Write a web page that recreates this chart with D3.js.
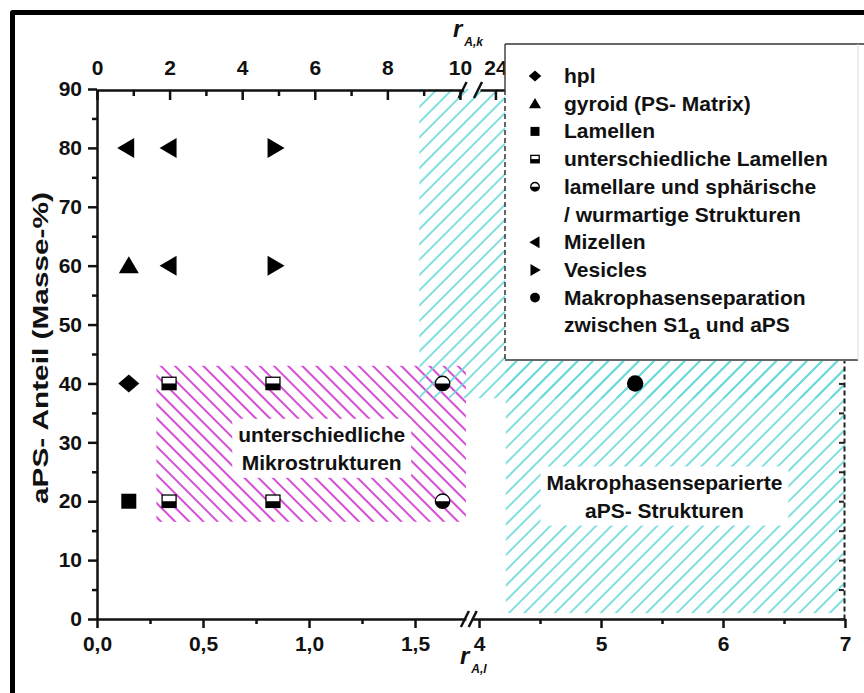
<!DOCTYPE html>
<html lang="de">
<head>
<meta charset="UTF-8">
<title>aPS Phasendiagramm</title>
<style>
  body { margin: 0; background: #fff; }
  svg text { font-family: "Liberation Sans", Arial, sans-serif; font-weight: bold; fill: #111; }
</style>
</head>
<body>
<div id="chart"></div>
<script src="https://d3js.org/d3.v7.min.js"></script>
<script>
// ---- data ----
// bottom axis r_A,l (broken: 0..1.74 | 3.94..7)
const xTicksLow = [0, 0.5, 1.0, 1.5];
const xMinorLow = [0.25, 0.75, 1.25];
const xTicksHigh = [4, 5, 6, 7];
const xMinorHigh = [4.5, 5.5, 6.5];
// top axis r_A,k (broken: 0..10 | 24)
const topTicksLow = [0, 2, 4, 6, 8, 10];
const topMinorLow = [1, 3, 5, 7, 9];
const topTicksHigh = [24];
// y axis
const yTicks = [0, 10, 20, 30, 40, 50, 60, 70, 80, 90];
const yMinor = [5, 15, 25, 35, 45, 55, 65, 75, 85];
const yRightTicks = [0, 5, 10, 15, 20, 25, 30, 35, 40, 45];

// series (x = r_A,l, y = aPS-Anteil)
const hplX = [0.15], hplY = [40];
const gyroidX = [0.15], gyroidY = [60];
const lamellenX = [0.15], lamellenY = [20];
const diffLamX = [0.34, 0.83, 0.34, 0.83], diffLamY = [40, 40, 20, 20];
const lamSphX = [1.63, 1.63], lamSphY = [40, 20];
const mizellenX = [0.14, 0.34, 0.34], mizellenY = [80, 80, 60];
const vesiclesX = [0.84, 0.84], vesiclesY = [80, 60];
const makroX = [5.28], makroY = [40];

// shaded regions [x0, x1], [y0, y1]
const microX = [0.28, 1.74], microY = [16.5, 43];
const macroTopX = [1.52, 7], macroTopY = [37.5, 90];
const macroBotX = [4.22, 7], macroBotY = [1, 45];

const microLabel = ["unterschiedliche", "Mikrostrukturen"];
const microLabelAt = [1.06, 28.9];
const macroLabel = ["Makrophasenseparierte", "aPS- Strukturen"];
const macroLabelAt = [5.52, 20.8];

const legendLabels = ["hpl", "gyroid (PS- Matrix)", "Lamellen", "unterschiedliche Lamellen",
  "lamellare und sphärische", "/ wurmartige Strukturen", "Mizellen", "Vesicles",
  "Makrophasenseparation", "zwischen S1"];
const legendSymbols = ["diamond", "triUp", "square", "halfSquare", "halfCircle", null,
  "triLeft", "triRight", "circle", null];

// ---- setup ----
const width = 864, height = 693;
const svg = d3.select("#chart").append("svg")
  .attr("width", width).attr("height", height);

const xL = d3.scaleLinear().domain([0, 1.74]).range([97, 465.9]);
const xR = d3.scaleLinear().domain([3.94, 7]).range([471.7, 845]);
const xPos = v => v <= 2 ? xL(v) : xR(v);
const tL = d3.scaleLinear().domain([0, 10.1]).range([97, 463.6]);
const tR = d3.scaleLinear().domain([23.6, 24.3]).range([480, 507]);
const y = d3.scaleLinear().domain([0, 90]).range([619, 89]);

// hatch patterns
const defs = svg.append("defs");
defs.append("pattern").attr("id", "pinkHatch")
  .attr("patternUnits", "userSpaceOnUse").attr("width", 10).attr("height", 10)
  .attr("patternTransform", "rotate(-45)")
  .append("line").attr("x1", 5).attr("x2", 5).attr("y1", 0).attr("y2", 10)
  .attr("stroke", "#d444d4").attr("stroke-width", 1.9);
defs.append("pattern").attr("id", "cyanHatch")
  .attr("patternUnits", "userSpaceOnUse").attr("width", 10.8).attr("height", 10.8)
  .attr("patternTransform", "rotate(45)")
  .append("line").attr("x1", 5).attr("x2", 5).attr("y1", 0).attr("y2", 10.8)
  .attr("stroke", "#62d8d8").attr("stroke-width", 1.6);

// outer frame
svg.append("path")
  .attr("d", "M12.5,693V12.5H864")
  .attr("fill", "none").attr("stroke", "#000").attr("stroke-width", 5)
  .attr("stroke-linejoin", "round");

// regions
function region(xs, ys, fill) {
  svg.append("rect")
    .attr("x", xPos(xs[0])).attr("y", y(ys[1]))
    .attr("width", xPos(xs[1]) - xPos(xs[0]))
    .attr("height", y(ys[0]) - y(ys[1]))
    .attr("fill", fill);
}
region(microX, microY, "url(#pinkHatch)");
region(macroTopX, macroTopY, "url(#cyanHatch)");
region(macroBotX, macroBotY, "url(#cyanHatch)");

// region labels with white background
function regionLabel(lines, at) {
  const g = svg.append("g");
  const t = g.append("text").attr("text-anchor", "middle").attr("font-size", 21);
  lines.forEach((s, i) => {
    t.append("tspan").attr("x", xPos(at[0])).attr("y", y(at[1]) - 14 + i * 28 + 7).text(s);
  });
  const bb = t.node().getBBox();
  g.insert("rect", "text")
    .attr("x", bb.x - 6).attr("y", bb.y - 4)
    .attr("width", bb.width + 12).attr("height", bb.height + 8)
    .attr("fill", "#fff");
}
regionLabel(microLabel, microLabelAt);
regionLabel(macroLabel, macroLabelAt);

// ---- axes ----
const fmtComma = d => d3.format(".1f")(d).replace(".", ",");
function styleAxis(g, fs) {
  g.attr("font-family", "Liberation Sans, Arial, sans-serif").attr("font-size", fs || 21)
    .attr("font-weight", "bold");
  g.select(".domain").attr("stroke-width", 2.5).attr("stroke", "#111");
  g.selectAll(".tick line").attr("stroke-width", 2.5).attr("stroke", "#111");
  g.selectAll(".tick text").attr("fill", "#111");
}
function minor(axis, vals, size, tx, ty) {
  svg.append("g").attr("transform", `translate(${tx},${ty})`)
    .call(axis.tickValues(vals).tickSize(size).tickFormat(""))
    .call(g => g.select(".domain").remove())
    .call(g => g.selectAll(".tick line").attr("stroke-width", 2.5).attr("stroke", "#111"));
}

// bottom
svg.append("g").attr("transform", "translate(0,619)")
  .call(d3.axisBottom(xL).tickValues(xTicksLow).tickSize(9).tickSizeOuter(0)
    .tickPadding(8).tickFormat(fmtComma))
  .call(g => styleAxis(g));
svg.append("g").attr("transform", "translate(0,619)")
  .call(d3.axisBottom(xR).tickValues(xTicksHigh).tickSize(9).tickSizeOuter(0)
    .tickPadding(8).tickFormat(d3.format("d")))
  .call(g => styleAxis(g));
minor(d3.axisBottom(xL), xMinorLow, 5, 0, 619);
minor(d3.axisBottom(xR), xMinorHigh, 5, 0, 619);

// left
svg.append("g").attr("transform", "translate(97,0)")
  .call(d3.axisLeft(y).tickValues(yTicks).tickSize(9).tickSizeOuter(0).tickPadding(6))
  .call(g => styleAxis(g));
minor(d3.axisLeft(y), yMinor, 5, 97, 0);

// right (dashed, inward ticks)
svg.append("g").attr("transform", "translate(844,0)")
  .call(d3.axisRight(y).tickValues(yRightTicks).tickSize(-5).tickSizeOuter(0).tickFormat(""))
  .call(g => {
    g.select(".domain").attr("stroke", "#222").attr("stroke-width", 2).attr("stroke-dasharray", "5,3");
    g.selectAll(".tick line").attr("stroke", "#222").attr("stroke-width", 2);
  });

// top (inward ticks)
svg.append("g").attr("transform", "translate(0,90)")
  .call(d3.axisTop(tL).tickValues(topTicksLow).tickSize(-10).tickSizeOuter(0).tickPadding(15))
  .call(g => styleAxis(g));
svg.append("g").attr("transform", "translate(0,90)")
  .call(d3.axisTop(tR).tickValues(topTicksHigh).tickSize(-10).tickSizeOuter(0).tickPadding(15)
    .tickFormat(d3.format("d")))
  .call(g => styleAxis(g));
minor(d3.axisTop(tL), topMinorLow, -6, 0, 90);

// break marks
function breakMarks(xs, yy) {
  svg.append("g").selectAll("line").data(xs).join("line")
    .attr("x1", d => d - 4).attr("x2", d => d + 4)
    .attr("y1", yy + 8).attr("y2", yy - 8)
    .attr("stroke", "#111").attr("stroke-width", 2.5);
}
breakMarks([(xL(1.74) - 1), (xR(3.94) + 1)], 619);
breakMarks([tL(10.1) - 1, tR(23.6) - 2], 90);

// axis titles
svg.append("text").attr("transform", "translate(48,348) rotate(-90)")
  .attr("text-anchor", "middle").attr("font-size", 22)
  .attr("textLength", 312).attr("lengthAdjust", "spacingAndGlyphs")
  .text("aPS- Anteil (Masse-%)");
function rTitle(x0, base, sub) {
  const t = svg.append("text").attr("x", x0).attr("y", base);
  t.append("tspan").attr("font-size", 24).attr("font-style", "italic").text("r");
  t.append("tspan").attr("font-size", 12).attr("font-style", "italic").attr("dy", 9).attr("dx", 2).text(sub);
}
rTitle(453, 37, "A,k");
rTitle(460, 664, "A,l");

// ---- markers ----
function drawSymbol(g, type, s) {
  const k = "#000";
  if (type === "diamond") {
    g.append("path").attr("d", `M0,${-s * 0.9}L${s * 1.05},0L0,${s * 0.9}L${-s * 1.05},0Z`).attr("fill", k);
  } else if (type === "triUp") {
    g.append("path").attr("d", `M0,${-s * 0.95}L${s},${s * 0.75}L${-s},${s * 0.75}Z`).attr("fill", k);
  } else if (type === "triLeft") {
    g.append("path").attr("d", `M${-s * 0.95},0L${s * 0.75},${-s}L${s * 0.75},${s}Z`).attr("fill", k);
  } else if (type === "triRight") {
    g.append("path").attr("d", `M${s * 0.95},0L${-s * 0.75},${-s}L${-s * 0.75},${s}Z`).attr("fill", k);
  } else if (type === "square") {
    g.append("rect").attr("x", -s * 0.75).attr("y", -s * 0.75)
      .attr("width", s * 1.5).attr("height", s * 1.5).attr("fill", k);
  } else if (type === "halfSquare") {
    g.append("rect").attr("x", -s * 0.7).attr("y", -s * 0.62)
      .attr("width", s * 1.4).attr("height", s * 1.24).attr("fill", "#fff")
      .attr("stroke", k).attr("stroke-width", 1.3);
    g.append("rect").attr("x", -s * 0.7).attr("y", 0)
      .attr("width", s * 1.4).attr("height", s * 0.62).attr("fill", k);
  } else if (type === "halfCircle") {
    const r = s * 0.72;
    g.append("circle").attr("r", r).attr("fill", "#fff").attr("stroke", k).attr("stroke-width", 1.3);
    g.append("path").attr("d", `M${-r},0A${r},${r} 0 0 0 ${r},0Z`).attr("fill", k);
  } else if (type === "circle") {
    g.append("circle").attr("r", s * 0.82).attr("fill", k);
  }
}

const series = [
  { type: "diamond", xs: hplX, ys: hplY },
  { type: "triUp", xs: gyroidX, ys: gyroidY },
  { type: "square", xs: lamellenX, ys: lamellenY },
  { type: "halfSquare", xs: diffLamX, ys: diffLamY },
  { type: "halfCircle", xs: lamSphX, ys: lamSphY },
  { type: "triLeft", xs: mizellenX, ys: mizellenY },
  { type: "triRight", xs: vesiclesX, ys: vesiclesY },
  { type: "circle", xs: makroX, ys: makroY }
];
series.forEach(sr => {
  sr.xs.forEach((xv, i) => {
    const g = svg.append("g").attr("transform", `translate(${xPos(xv)},${y(sr.ys[i])})`);
    drawSymbol(g, sr.type, 10);
  });
});

// ---- legend ----
const lg = svg.append("g");
lg.append("rect").attr("x", 505).attr("y", 44).attr("width", 353).attr("height", 316)
  .attr("fill", "#fff").attr("stroke", "none");
lg.append("path").attr("d", "M505,44H864M505,360H858")
  .attr("stroke", "#666").attr("stroke-width", 2).attr("fill", "none");
lg.append("path").attr("d", "M858,44V360")
  .attr("stroke", "#ddd").attr("stroke-width", 1).attr("fill", "none");
lg.append("path").attr("d", "M505,44V90")
  .attr("stroke", "#444").attr("stroke-width", 1.5);
lg.append("path").attr("d", "M505,90V360")
  .attr("stroke", "#333").attr("stroke-width", 1.5).attr("stroke-dasharray", "5,3");

legendLabels.forEach((lab, i) => {
  const cy = 76 + i * 27.7;
  if (legendSymbols[i]) {
    drawSymbol(lg.append("g").attr("transform", `translate(535,${cy})`), legendSymbols[i], 6);
  }
  const t = lg.append("text").attr("x", 564).attr("y", cy + 7).attr("font-size", 21).text(lab);
  if (i === legendLabels.length - 1) {
    t.append("tspan").attr("dy", 7).attr("font-size", 20).text("a");
    t.append("tspan").attr("dy", -7).text(" und aPS");
  }
});
</script>
</body>
</html>
